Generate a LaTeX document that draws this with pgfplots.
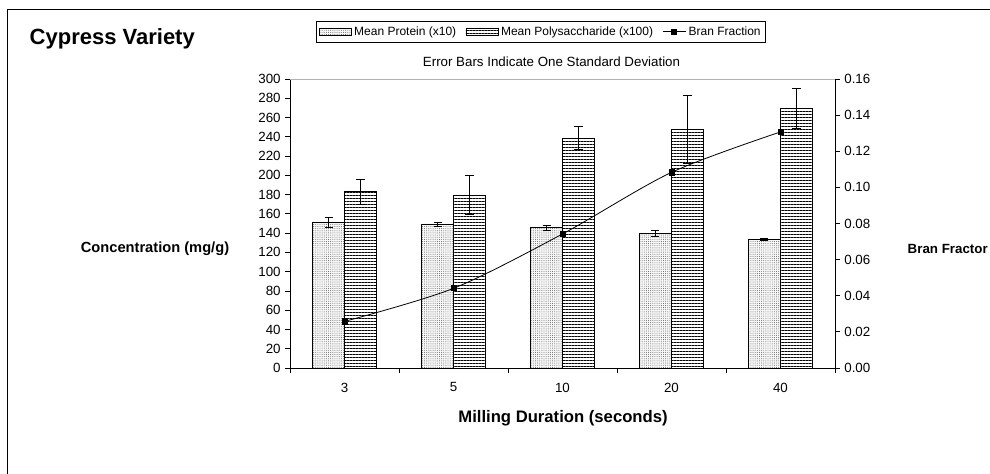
\documentclass[border=0pt]{standalone}
\usepackage{pgfplots}
\pgfplotsset{compat=1.18}
\usepackage{pgfplotstable}
\usepackage{fontspec}
\setmainfont{Liberation Sans}
\usetikzlibrary{patterns,patterns.meta}

\pgfplotstableread{
x prot protE poly polyE bran
0 151.0 5.0 183.0 13 0.0258
1 149.5 2.0 179.5 20 0.0441
2 145.7 2.5 238.5 12 0.0742
3 139.8 3.0 247.8 35 0.1083
4 133.2 1.0 269.6 21 0.1307
}\data

\tikzset{
  protstyle/.style={draw=black, line width=0.6pt, fill=gray!6,
    postaction={pattern color=gray!75!black, pattern={Dots[distance=1.6pt, radius=0.35pt]}}},
  polystyle/.style={draw=black, line width=0.6pt, fill=white,
    postaction={pattern color=black, pattern={Lines[angle=0, distance=2.25pt, line width=0.45pt]}}},
}

\begin{document}
\begin{tikzpicture}
\useasboundingbox (0,0) rectangle (742.5pt,-355.5pt);
\clip (0,0) rectangle (742.5pt,-355.5pt);
% outer frame
\draw[line width=0.9pt] ({7.5*0.75pt},-400pt) -- ({7.5*0.75pt},{-9.5*0.75pt}) -- (800pt,{-9.5*0.75pt});

\begin{axis}[
  scale only axis, width=408.75pt, height=216.75pt,
  at={(217.5pt,-276pt)}, anchor=south west,
  xmin=-0.5, xmax=4.5, ymin=0, ymax=300,
  ytick={0,20,...,300},
  xtick={-0.5,0.5,1.5,2.5,3.5,4.5},
  xticklabels={3,5,10,20,40}, x tick label as interval,
  xticklabel style={yshift=-4pt},
  axis x line*=bottom, axis y line*=left,
  axis line style={black, line width=0.6pt},
  tick align=outside, major tick length=3.5pt,
  tick style={black, line width=0.6pt},
  ticklabel style={font=\fontsize{10}{11}\selectfont},
  /pgf/number format/assume math mode=true,
  ybar, bar width=24pt,
]
\addplot[protstyle, bar shift=-12pt,
  error bars/.cd, y dir=both, y explicit, error mark=-,
  error bar style={black, line width=0.6pt, solid},
  error mark options={black, line width=0.6pt, mark size=3pt, rotate=90}]
  table[x=x, y=prot, y error=protE]{\data};
\addplot[polystyle, bar shift=12pt,
  error bars/.cd, y dir=both, y explicit, error mark=-,
  error bar style={black, line width=0.6pt, solid},
  error mark options={black, line width=0.6pt, mark size=3.5pt, rotate=90}]
  table[x=x, y=poly, y error=polyE]{\data};
\end{axis}

\begin{axis}[
  scale only axis, width=408.75pt, height=216.75pt,
  at={(217.5pt,-276pt)}, anchor=south west,
  xmin=-0.5, xmax=4.5, ymin=0, ymax=0.16,
  ytick={0,0.02,0.04,0.06,0.08,0.10,0.12,0.14,0.16},
  scaled y ticks=false,
  yticklabel style={/pgf/number format/.cd, fixed, fixed zerofill, precision=2},
  axis y line*=right, axis x line=none,
  axis line style={black, line width=0.6pt},
  tick align=outside, major tick length=3.5pt,
  tick style={black, line width=0.6pt},
  ticklabel style={font=\fontsize{10}{11}\selectfont},
  /pgf/number format/assume math mode=true,
  legend columns=3,
  legend style={at={(0.4606,1.163)}, anchor=center, draw=black, line width=0.6pt,
    font=\fontsize{9}{10.5}\selectfont, inner sep=1.8pt,
    /tikz/every even column/.append style={column sep=5pt}},
]
\draw[gray!60, line width=0.6pt] (rel axis cs:0,1) -- (rel axis cs:1,1);
\addlegendimage{legend image code/.code={\draw[protstyle] (0pt,-2.6pt) rectangle (24pt,2.6pt);}}
\addlegendentry{Mean Protein (x10)}
\addlegendimage{legend image code/.code={\draw[polystyle] (0pt,-2.6pt) rectangle (24pt,2.6pt);}}
\addlegendentry{Mean Polysaccharide (x100)}
\addplot[black, line width=0.6pt, smooth, mark=square*, mark size=1.9pt, mark options={solid}]
  table[x=x, y=bran]{\data};
\addlegendentry{Bran Fraction}
\end{axis}

\node[anchor=west, font=\bfseries\fontsize{16.5}{19}\selectfont] at ({25*0.75pt},{-39*0.75pt}) {Cypress Variety};
\node[font=\fontsize{10}{12}\selectfont] at ({551.5*0.75pt},{-62*0.75pt}) {Error Bars Indicate One Standard Deviation};
\node[font=\bfseries\fontsize{11}{13}\selectfont] at ({155*0.75pt},{-249*0.75pt}) {Concentration (mg/g)};
\node[anchor=west, font=\bfseries\fontsize{10}{12}\selectfont] at ({903*0.75pt},{-249*0.75pt}) {Bran Fractor};
\node[font=\bfseries\fontsize{12.5}{14}\selectfont] at ({563*0.75pt},{-418*0.75pt}) {Milling Duration (seconds)};
\end{tikzpicture}
\end{document}
